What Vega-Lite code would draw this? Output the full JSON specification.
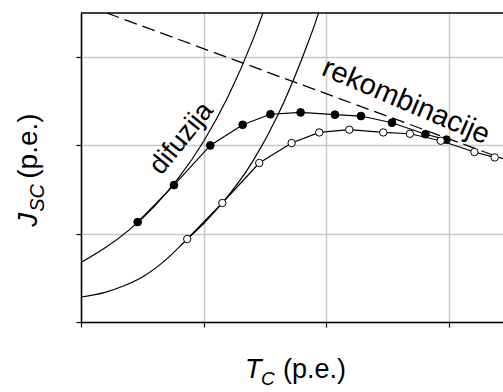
{
  "$schema": "https://vega.github.io/schema/vega-lite/v6.json",
  "autosize": "none",
  "width": 422,
  "height": 309,
  "padding": {"left": 81, "top": 13, "right": 0, "bottom": 70},
  "background": "white",
  "config": {
    "view": {"stroke": null},
    "font": "Liberation Sans",
    "axis": {
      "labels": false,
      "title": null,
      "ticks": true,
      "tickSize": 5,
      "tickColor": "black",
      "tickWidth": 1.2,
      "domainColor": "black",
      "domainWidth": 1.5,
      "grid": true,
      "gridColor": "#c8c8c8",
      "gridWidth": 1.5
    }
  },
  "datasets": {
    "difLeft": [
      {"x": 0, "y": 0.675}, {"x": 0.2, "y": 0.843}, {"x": 0.4, "y": 1.052},
      {"x": 0.6, "y": 1.314}, {"x": 0.8, "y": 1.641}, {"x": 1.0, "y": 2.048},
      {"x": 1.2, "y": 2.557}, {"x": 1.4, "y": 3.193}, {"x": 1.5, "y": 3.567},
      {"x": 1.6, "y": 3.98}
    ],
    "difRight": [
      {"x": 0, "y": 0.283}, {"x": 0.196, "y": 0.335}, {"x": 0.35, "y": 0.41},
      {"x": 0.508, "y": 0.516}, {"x": 0.7, "y": 0.715}, {"x": 0.861, "y": 0.932},
      {"x": 1.0, "y": 1.115}, {"x": 1.152, "y": 1.348}, {"x": 1.4, "y": 1.82},
      {"x": 1.6, "y": 2.33}, {"x": 1.8, "y": 2.98}, {"x": 1.934, "y": 3.49},
      {"x": 2.0, "y": 3.8}
    ],
    "recomb": [
      {"x": 0.21, "y": 3.5}, {"x": 3.44, "y": 1.849}
    ],
    "filled": [
      {"x": 0.462, "y": 1.132}, {"x": 0.758, "y": 1.551}, {"x": 1.054, "y": 2.0},
      {"x": 1.318, "y": 2.234}, {"x": 1.544, "y": 2.353}, {"x": 1.79, "y": 2.374},
      {"x": 2.07, "y": 2.348}, {"x": 2.282, "y": 2.333}, {"x": 2.535, "y": 2.257},
      {"x": 2.808, "y": 2.127}, {"x": 2.979, "y": 2.065}
    ],
    "open": [
      {"x": 0.866, "y": 0.94}, {"x": 1.152, "y": 1.348}, {"x": 1.453, "y": 1.801},
      {"x": 1.717, "y": 2.027}, {"x": 1.942, "y": 2.147}, {"x": 2.187, "y": 2.178},
      {"x": 2.464, "y": 2.147}, {"x": 2.681, "y": 2.132}, {"x": 2.932, "y": 2.053},
      {"x": 3.207, "y": 1.925}, {"x": 3.372, "y": 1.864}
    ]
  },
  "encoding": {
    "x": {"field": "x", "type": "quantitative", "scale": {"domain": [0, 3.44], "nice": false, "zero": false}, "axis": {"values": [0, 1, 2, 3]}},
    "y": {"field": "y", "type": "quantitative", "scale": {"domain": [0, 3.5], "nice": false, "zero": false}, "axis": {"values": [0, 1, 2, 3]}}
  },
  "layer": [
    {
      "data": {"name": "difLeft"},
      "mark": {"type": "line", "interpolate": "monotone", "color": "black", "strokeWidth": 1.2, "clip": true}
    },
    {
      "data": {"name": "difRight"},
      "mark": {"type": "line", "interpolate": "monotone", "color": "black", "strokeWidth": 1.2, "clip": true}
    },
    {
      "data": {"name": "recomb"},
      "mark": {"type": "line", "color": "black", "strokeWidth": 1.3, "strokeDash": [13, 6], "clip": true}
    },
    {
      "data": {"name": "filled"},
      "mark": {"type": "line", "color": "black", "strokeWidth": 1.2}
    },
    {
      "data": {"name": "open"},
      "mark": {"type": "line", "color": "black", "strokeWidth": 1.2}
    },
    {
      "data": {"name": "filled"},
      "mark": {"type": "point", "shape": "circle", "filled": true, "fill": "black", "stroke": "black", "strokeWidth": 1, "size": 60, "opacity": 1}
    },
    {
      "data": {"name": "open"},
      "mark": {"type": "point", "shape": "circle", "filled": true, "fill": "white", "stroke": "black", "strokeWidth": 1, "size": 55, "opacity": 1}
    },
    {
      "data": {"values": [{"y": 3.5}]},
      "mark": {"type": "rule", "color": "black", "strokeWidth": 1.5},
      "encoding": {"x": null, "y": {"field": "y", "type": "quantitative"}}
    },
    {
      "data": {"values": [{"label": "difuzija", "x": 0.82, "y": 2.08}]},
      "mark": {"type": "text", "fontSize": 27, "angle": 309, "align": "center", "baseline": "middle", "color": "black"},
      "encoding": {"text": {"field": "label", "type": "nominal"}}
    },
    {
      "data": {"values": [{"label": "rekombinacije", "x": 2.65, "y": 2.5}]},
      "mark": {"type": "text", "fontSize": 29, "angle": 23, "align": "center", "baseline": "middle", "color": "black"},
      "encoding": {"text": {"field": "label", "type": "nominal"}}
    },
    {
      "data": {"values": [{"label": "T", "x": 1.337, "y": -0.63}]},
      "mark": {"type": "text", "fontSize": 27, "fontStyle": "italic", "align": "left", "baseline": "alphabetic", "color": "black"},
      "encoding": {"text": {"field": "label", "type": "nominal"}}
    },
    {
      "data": {"values": [{"label": "C", "x": 1.337, "y": -0.63}]},
      "mark": {"type": "text", "fontSize": 19, "fontStyle": "italic", "align": "left", "baseline": "alphabetic", "dx": 16, "dy": 7, "color": "black"},
      "encoding": {"text": {"field": "label", "type": "nominal"}}
    },
    {
      "data": {"values": [{"label": "(p.e.)", "x": 1.337, "y": -0.63}]},
      "mark": {"type": "text", "fontSize": 27, "align": "left", "baseline": "alphabetic", "dx": 38, "color": "black"},
      "encoding": {"text": {"field": "label", "type": "nominal"}}
    },
    {
      "data": {"values": [{"label": "J", "x": -0.359, "y": 1.079}]},
      "mark": {"type": "text", "fontSize": 28, "fontStyle": "italic", "angle": 270, "align": "left", "baseline": "alphabetic", "color": "black"},
      "encoding": {"text": {"field": "label", "type": "nominal"}}
    },
    {
      "data": {"values": [{"label": "SC", "x": -0.359, "y": 1.079}]},
      "mark": {"type": "text", "fontSize": 20, "fontStyle": "italic", "angle": 270, "align": "left", "baseline": "alphabetic", "dx": 15, "dy": 7, "color": "black"},
      "encoding": {"text": {"field": "label", "type": "nominal"}}
    },
    {
      "data": {"values": [{"label": "(p.e.)", "x": -0.359, "y": 1.079}]},
      "mark": {"type": "text", "fontSize": 28, "angle": 270, "align": "left", "baseline": "alphabetic", "dx": 48, "color": "black"},
      "encoding": {"text": {"field": "label", "type": "nominal"}}
    }
  ]
}
